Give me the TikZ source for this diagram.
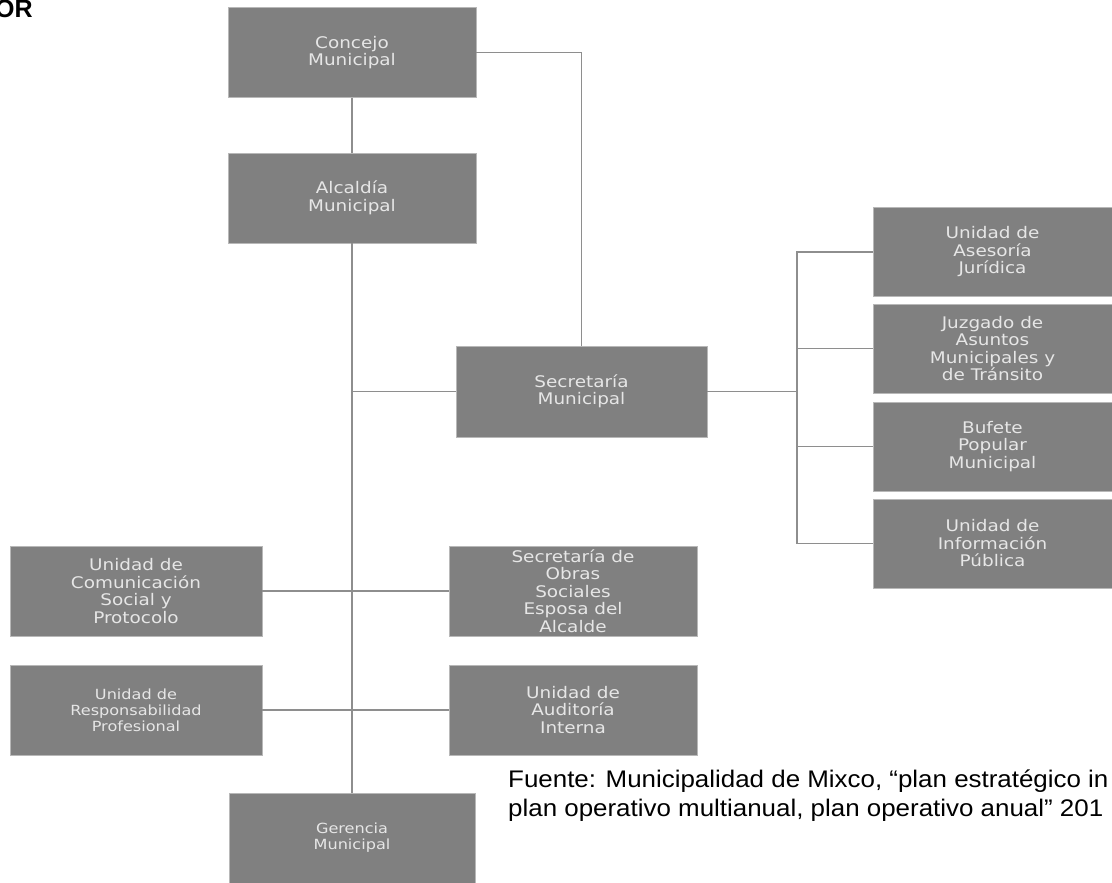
\documentclass[tikz,border=0pt]{standalone}
\usepackage{fontspec}
\usepackage{tikz}
\usetikzlibrary{calc,positioning}
\newfontfamily\boxfont[FakeStretch=1.15]{DejaVu Sans}
\newfontfamily\notefont[FakeStretch=1.08]{Liberation Sans}
\newfontfamily\headfont{Liberation Sans}
\definecolor{boxgray}{HTML}{808080}
\definecolor{linegray}{HTML}{8E8E8E}
\definecolor{txtgray}{HTML}{E6E6E6}

\begin{document}
\begin{tikzpicture}[x=1pt,y=-1pt,
    unit/.style={fill=boxgray,draw=black!28,line width=0.8pt,inner sep=2pt,
      text=txtgray,align=center,font=\boxfont\fontsize{16}{17.5}\selectfont},
    wide/.style={unit,minimum width=248pt,minimum height=90pt},
    side/.style={unit,minimum width=239pt,minimum height=89pt},
    smalltext/.style={font=\boxfont\fontsize{14}{16}\selectfont},
    note/.style={anchor=base west,inner sep=0,font=\notefont\fontsize{24}{29}\selectfont},
    link/.style={draw=linegray,line width=1.8pt}]
  \useasboundingbox (0,0) rectangle (1112,883);

  % Title (cut at the left edge, as in the source)
  \node[anchor=base west,inner sep=0,font=\headfont\bfseries\fontsize{25}{25}\selectfont] (title) at (-5,18) {OR};

  % Top of the chart
  \node[wide] (concejo) at (352,52.5) {Concejo\\Municipal};
  \node[wide] (alcaldia) at (352,198) {Alcald\'ia\\Municipal};
  \node[unit,minimum width=251pt,minimum height=91pt] (secretaria) at (581.5,391.5) {Secretar\'ia\\Municipal};

  % Units under Secretaria Municipal
  \node[side] (asesoria) at (992.5,252) {Unidad de\\Asesor\'ia\\Jur\'idica};
  \node[side] (juzgado) at (992.5,348.5) {Juzgado de\\Asuntos\\Municipales y\\de Tr\'ansito};
  \node[side] (bufete) at (992.5,446.5) {Bufete\\Popular\\Municipal};
  \node[side] (informacion) at (992.5,543.5) {Unidad de\\Informaci\'on\\P\'ublica};
  \coordinate (bus) at (797,0);

  % Units along the main line
  \node[wide,minimum width=252pt] (comunicacion) at (136,591) {Unidad de\\Comunicaci\'on\\Social y\\Protocolo};
  \node[wide] (obras) at (573,591) {Secretar\'ia de\\Obras\\Sociales\\Esposa del\\Alcalde};
  \node[wide,minimum width=252pt,smalltext] (responsabilidad) at (136,710) {Unidad de\\Responsabilidad\\Profesional};
  \node[wide] (auditoria) at (573,710) {Unidad de\\Auditor\'ia\\Interna};
  \node[wide,minimum width=246pt,smalltext] (gerencia) at (352,838) {Gerencia\\Municipal};

  % Connectors
  \draw[link] (concejo) -- (alcaldia);
  \draw[link] (alcaldia) -- (gerencia);
  \draw[link] (concejo.east) -| (secretaria.north);
  \draw[link] (secretaria.west) -- (secretaria.west -| alcaldia.south);
  \draw[link] (comunicacion.east) -- (obras.west);
  \draw[link] (responsabilidad.east) -- (auditoria.west);
  \draw[link] (secretaria.east) -- (secretaria.east -| bus);
  \draw[link] (asesoria.west) -- (asesoria.west -| bus) -- (informacion.west -| bus) -- (informacion.west);
  \draw[link] (juzgado.west) -- (juzgado.west -| bus);
  \draw[link] (bufete.west) -- (bufete.west -| bus);

  % Source note (cut at the right edge)
  \node[note] (fuente) at (508,787) {Fuente: Municipalidad de Mixco, “plan estrat\'egico in};
  \node[note] (fuentebis) at (508,816) {plan operativo multianual, plan operativo anual” 201};
\end{tikzpicture}
\end{document}
